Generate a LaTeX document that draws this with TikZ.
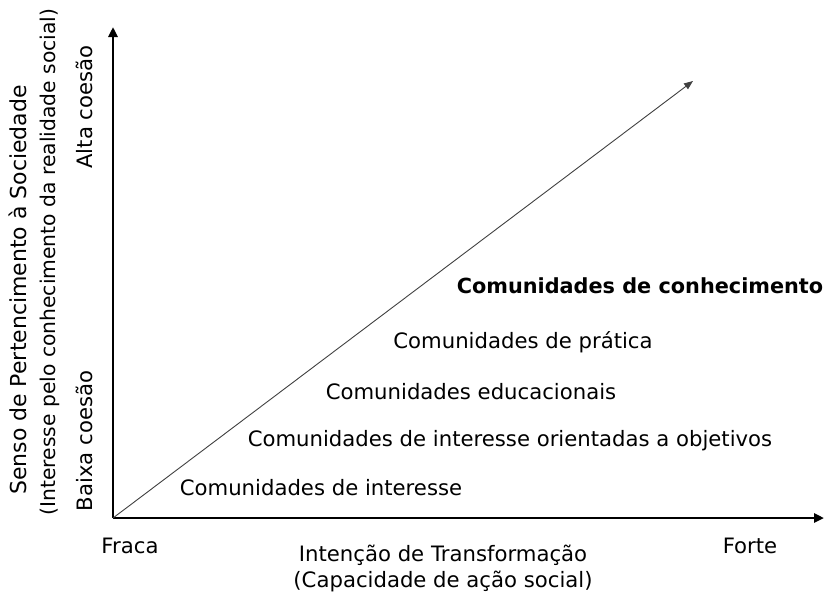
\documentclass[tikz,border=0pt]{standalone}
\usepackage{fontspec}
\setmainfont{DejaVu Sans}
\usetikzlibrary{arrows.meta}
\begin{document}
\begin{tikzpicture}[x=1pt,y=-1pt,
  lbl/.style={font=\fontsize{21.2}{24}\selectfont, inner sep=0pt, anchor=center, text height=15pt, text depth=4pt},
  blbl/.style={lbl, font=\fontsize{20.8}{24}\selectfont\bfseries},
  axis/.style={line width=2.6pt, -{Triangle[length=10pt,width=9pt]}},
  diag/.style={line width=0.9pt, draw=black!75, -{Triangle[length=9pt,width=7pt]}}]
\useasboundingbox (0,0) rectangle (829,597);
\coordinate (O) at (113,518);
\coordinate (ytop) at (113,27);
\coordinate (xend) at (824,518);
\coordinate (dend) at (693,81);
\draw[axis] (O) -- (ytop);
\draw[axis] (O) -- (xend);
\draw[diag] (O) -- (dend);
\node[blbl] (k) at (640,288) {Comunidades de conhecimento};
\node[lbl] (p) at (523,343) {Comunidades de prática};
\node[lbl] (e) at (471,394) {Comunidades educacionais};
\node[lbl] (o) at (510,441) {Comunidades de interesse orientadas a objetivos};
\node[lbl] (i) at (321,490) {Comunidades de interesse};
\node[lbl] (fraca) at (130,548) {Fraca};
\node[lbl] (forte) at (750,548) {Forte};
\node[lbl] (x1) at (443,556) {Intenção de Transformação};
\node[lbl] (x2) at (443,582) {(Capacidade de ação social)};
\node[lbl, rotate=90] (alta) at (87,107) {Alta coesão};
\node[lbl, rotate=90] (baixa) at (87,441) {Baixa coesão};
\node[lbl, rotate=90, font=\fontsize{22}{24}\selectfont] (y1) at (21,290) {Senso de Pertencimento à Sociedade};
\node[lbl, rotate=90, font=\fontsize{20.3}{24}\selectfont] (y2) at (50,262) {(Interesse pelo conhecimento da realidade social)};
\end{tikzpicture}
\end{document}
